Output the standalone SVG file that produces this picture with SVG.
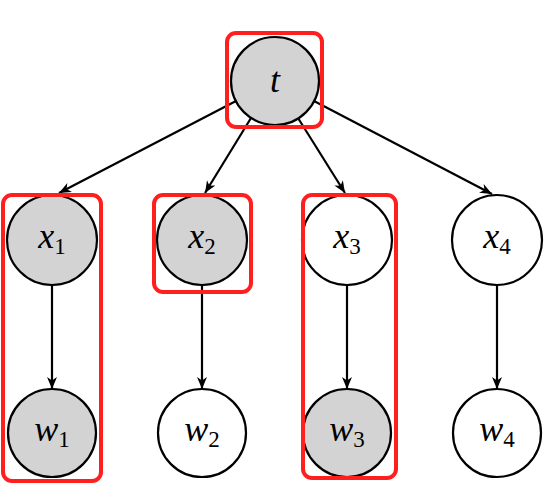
<svg xmlns="http://www.w3.org/2000/svg" width="544" height="486" viewBox="0 0 544 486">
<defs>
<style>
.n{stroke:#000;stroke-width:2.2;fill:#fff}
.s{fill:#d3d3d3}
.e{stroke:#000;stroke-width:2.2;fill:none;marker-end:url(#ah)}
.b{fill:none;stroke:#ff1f1f;stroke-width:4}
</style>
<marker id="ah" markerUnits="userSpaceOnUse" markerWidth="13" markerHeight="11" refX="12" refY="5" orient="auto">
<path d="M0,0 L12,5 L0,10 L3.5,5 z" fill="#000"/>
</marker>
</defs>
<g id="connectors">
<line class="e" x1="236" y1="101" x2="59" y2="193"/>
<line class="e" x1="251" y1="118" x2="205" y2="193"/>
<line class="e" x1="298" y1="118" x2="345" y2="193"/>
<line class="e" x1="314" y1="101" x2="492" y2="194"/>
<line class="e" x1="52" y1="284" x2="52" y2="389"/>
<line class="e" x1="202" y1="284" x2="202" y2="389"/>
<line class="e" x1="347" y1="284" x2="347" y2="389"/>
<line class="e" x1="497" y1="284" x2="497" y2="389"/>
</g>
<g id="t"><circle class="n s" cx="275" cy="81" r="44"/><text x="275" y="92" font-family="Liberation Serif" font-style="italic" font-size="36" text-anchor="middle">t</text></g>
<g id="x1"><circle class="n s" cx="52" cy="240" r="45"/><text x="52" y="248" font-family="Liberation Serif" font-style="italic" font-size="36" text-anchor="middle">x<tspan font-style="normal" font-size="23" dy="6">1</tspan></text></g>
<g id="x2"><circle class="n s" cx="202" cy="240" r="45"/><text x="202" y="248" font-family="Liberation Serif" font-style="italic" font-size="36" text-anchor="middle">x<tspan font-style="normal" font-size="23" dy="6">2</tspan></text></g>
<g id="x3"><circle class="n" cx="347" cy="240" r="45"/><text x="347" y="248" font-family="Liberation Serif" font-style="italic" font-size="36" text-anchor="middle">x<tspan font-style="normal" font-size="23" dy="6">3</tspan></text></g>
<g id="x4"><circle class="n" cx="497" cy="240" r="45"/><text x="497" y="248" font-family="Liberation Serif" font-style="italic" font-size="36" text-anchor="middle">x<tspan font-style="normal" font-size="23" dy="6">4</tspan></text></g>
<g id="w1"><circle class="n s" cx="52" cy="433" r="44"/><text x="52" y="441" font-family="Liberation Serif" font-style="italic" font-size="36" text-anchor="middle">w<tspan font-style="normal" font-size="23" dy="6">1</tspan></text></g>
<g id="w2"><circle class="n" cx="202" cy="433" r="44"/><text x="202" y="441" font-family="Liberation Serif" font-style="italic" font-size="36" text-anchor="middle">w<tspan font-style="normal" font-size="23" dy="6">2</tspan></text></g>
<g id="w3"><circle class="n s" cx="347" cy="433" r="44"/><text x="347" y="441" font-family="Liberation Serif" font-style="italic" font-size="36" text-anchor="middle">w<tspan font-style="normal" font-size="23" dy="6">3</tspan></text></g>
<g id="w4"><circle class="n" cx="497" cy="433" r="44"/><text x="497" y="441" font-family="Liberation Serif" font-style="italic" font-size="36" text-anchor="middle">w<tspan font-style="normal" font-size="23" dy="6">4</tspan></text></g>
<g id="boxes">
<rect class="b" x="227" y="33" width="95" height="94" rx="9"/>
<rect class="b" x="3" y="195" width="98" height="286" rx="9"/>
<rect class="b" x="154" y="195" width="97" height="97" rx="9"/>
<rect class="b" x="303" y="195" width="93" height="283" rx="9"/>
</g>
</svg>
